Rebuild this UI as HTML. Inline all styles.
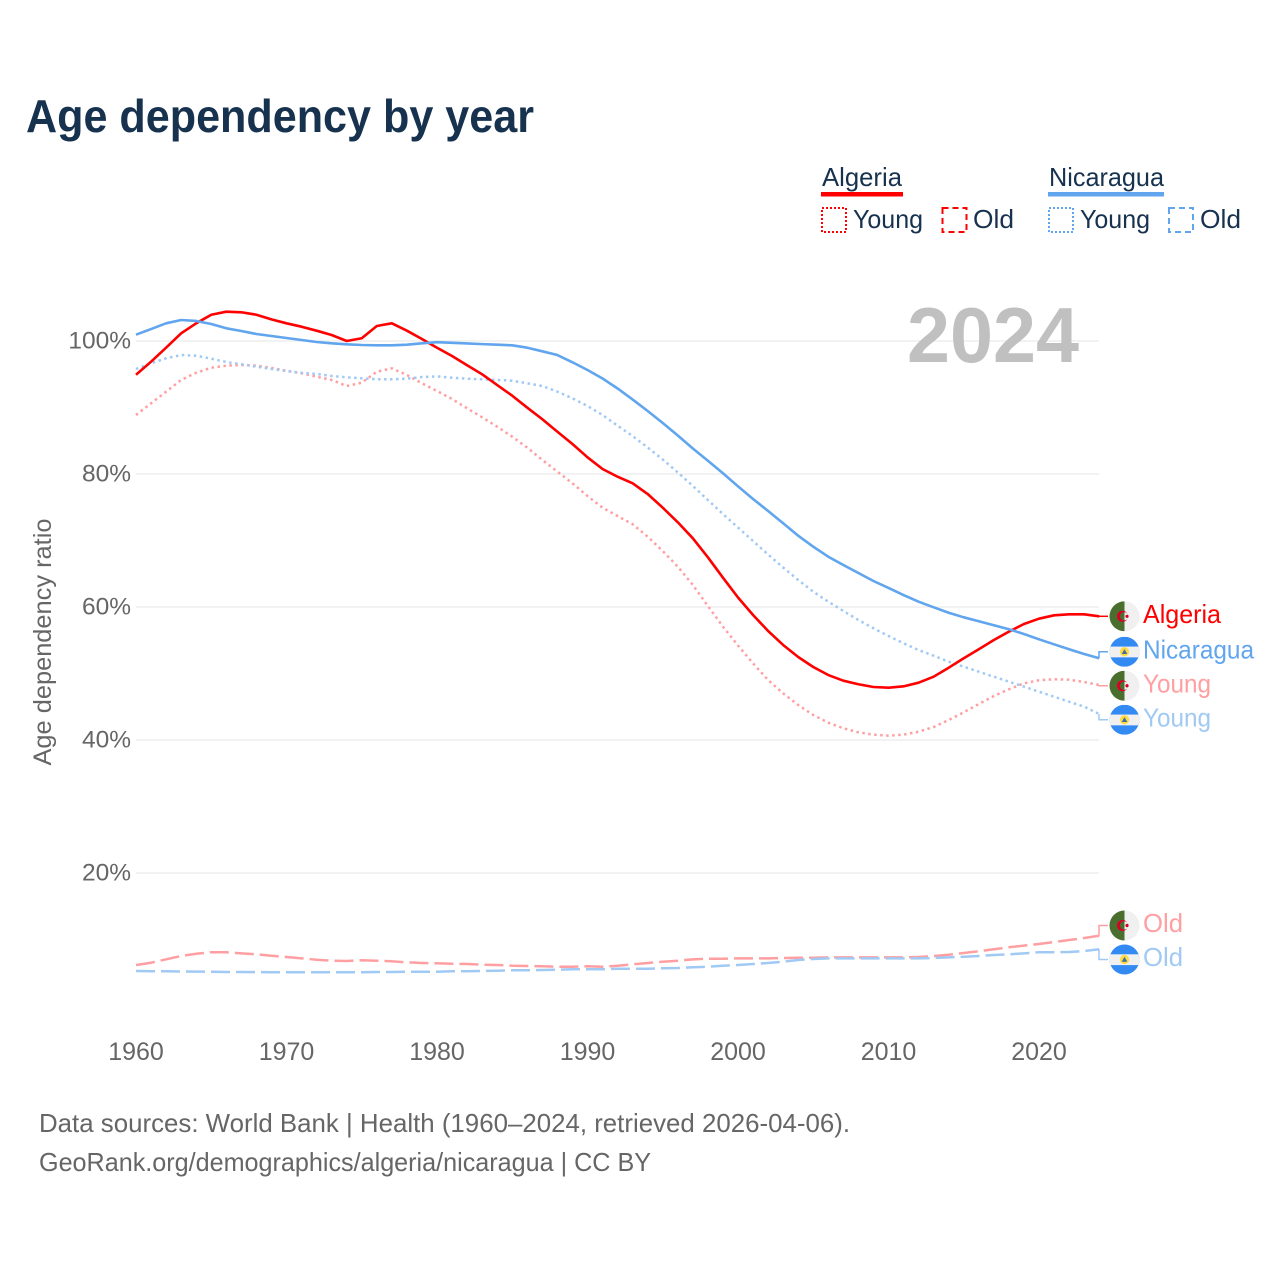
<!DOCTYPE html>
<html lang="en">
<head>
<meta charset="utf-8">
<title>Age dependency by year</title>
<style>
html,body{margin:0;padding:0;background:#fff;}
svg{display:block;font-family:"Liberation Sans",sans-serif;}
</style>
</head>
<body>
<svg id="chart" xmlns="http://www.w3.org/2000/svg" width="1280" height="1280" viewBox="0 0 1280 1280">
  <defs>
    <clipPath id="flag-clip"><circle cx="0" cy="0" r="15"/></clipPath>
    <g id="flag-algeria" clip-path="url(#flag-clip)">
      <rect x="-15" y="-15" width="30" height="30" fill="#f0f0f0"/>
      <rect x="-15" y="-15" width="15" height="30" fill="#496e2d"/>
      <path fill-rule="evenodd" d="M-7.5 0 A5.5 5.5 0 1 0 3.5 0 A5.5 5.5 0 1 0 -7.5 0 Z M-4.6 0 A4.2 4.2 0 1 0 3.8 0 A4.2 4.2 0 1 0 -4.6 0 Z" fill="#d80027"/>
      <circle cx="2.5" cy="0" r="1.6" fill="#d80027"/>
    </g>
    <g id="flag-nicaragua" clip-path="url(#flag-clip)">
      <rect x="-15" y="-15" width="30" height="30" fill="#338af3"/>
      <rect x="-15" y="-5.2" width="30" height="10.8" fill="#f0f0f0"/>
      <circle cx="0" cy="0" r="4.6" fill="#ffda44"/>
      <path d="M0 -2.6 L2.8 2.2 L-2.8 2.2 Z" fill="#3f6f9f"/>
    </g>
  </defs>

  <text x="26" y="132" font-size="46" font-weight="700" fill="#17324f" textLength="508" lengthAdjust="spacingAndGlyphs">Age dependency by year</text>

  <g font-size="26" fill="#17324f">
    <g>
      <text x="822" y="186" textLength="80" lengthAdjust="spacingAndGlyphs">Algeria</text>
      <rect x="821" y="192" width="82" height="4.5" fill="#ff0000"/>
      <rect x="822" y="208" width="24" height="24" fill="none" stroke="#ff0000" stroke-width="2" stroke-dasharray="2 2"/>
      <text x="853" y="228" textLength="70" lengthAdjust="spacingAndGlyphs">Young</text>
      <rect x="942.5" y="208" width="24" height="24" fill="none" stroke="#ff0000" stroke-width="2" stroke-dasharray="6 4"/>
      <text x="973" y="228" textLength="41" lengthAdjust="spacingAndGlyphs">Old</text>
    </g>
    <g>
      <text x="1049" y="186" textLength="115" lengthAdjust="spacingAndGlyphs">Nicaragua</text>
      <rect x="1048" y="192" width="116" height="4.5" fill="#60a5ee"/>
      <rect x="1049" y="208" width="24" height="24" fill="none" stroke="#60a5ee" stroke-width="2" stroke-dasharray="2 2"/>
      <text x="1080" y="228" textLength="70" lengthAdjust="spacingAndGlyphs">Young</text>
      <rect x="1169" y="208" width="24" height="24" fill="none" stroke="#60a5ee" stroke-width="2" stroke-dasharray="6 4"/>
      <text x="1200" y="228" textLength="41" lengthAdjust="spacingAndGlyphs">Old</text>
    </g>
  </g>

  <g id="grid"></g>
  <text x="907" y="362" font-size="78" font-weight="700" fill="#c0c0c0" textLength="172" lengthAdjust="spacingAndGlyphs">2024</text>
  <g id="y-axis"></g>
  <g id="x-axis"></g>
  <text transform="translate(51 642) rotate(-90)" text-anchor="middle" font-size="25" fill="#666666" textLength="247" lengthAdjust="spacingAndGlyphs">Age dependency ratio</text>
  <g id="series"></g>
  <g id="end-labels"></g>

  <g font-size="26" fill="#666666">
    <text x="39" y="1132" textLength="811" lengthAdjust="spacingAndGlyphs">Data sources: World Bank | Health (1960–2024, retrieved 2026-04-06).</text>
    <text x="39" y="1171" textLength="612" lengthAdjust="spacingAndGlyphs">GeoRank.org/demographics/algeria/nicaragua | CC BY</text>
  </g>
</svg>
<script>
const years = [1960,1961,1962,1963,1964,1965,1966,1967,1968,1969,1970,1971,1972,1973,1974,1975,1976,1977,1978,1979,1980,1981,1982,1983,1984,1985,1986,1987,1988,1989,1990,1991,1992,1993,1994,1995,1996,1997,1998,1999,2000,2001,2002,2003,2004,2005,2006,2007,2008,2009,2010,2011,2012,2013,2014,2015,2016,2017,2018,2019,2020,2021,2022,2023,2024];
const xTicks = [1960,1970,1980,1990,2000,2010,2020];
const yTicks = [20,40,60,80,100];

const algeriaTotal = [94.93,96.89,98.99,101.16,102.66,103.95,104.41,104.32,103.95,103.26,102.66,102.15,101.55,100.90,100,100.41,102.26,102.66,101.55,100.30,98.98,97.74,96.35,94.99,93.38,91.77,89.97,88.23,86.36,84.51,82.51,80.75,79.59,78.60,76.99,74.93,72.74,70.33,67.47,64.41,61.43,58.80,56.39,54.29,52.48,50.98,49.77,48.92,48.38,47.97,47.86,48.07,48.62,49.52,50.87,52.29,53.64,55.04,56.29,57.44,58.24,58.75,58.90,58.90,58.60];
const nicaraguaTotal = [100.95,101.80,102.66,103.16,103.01,102.56,101.91,101.50,101.05,100.75,100.45,100.15,99.85,99.65,99.50,99.40,99.35,99.35,99.44,99.65,99.82,99.73,99.64,99.53,99.44,99.35,98.99,98.45,97.89,96.80,95.64,94.36,92.86,91.20,89.47,87.67,85.79,83.83,82.00,80.11,78.15,76.24,74.44,72.59,70.72,69.07,67.56,66.32,65.11,63.91,62.86,61.80,60.80,59.95,59.14,58.45,57.85,57.25,56.65,55.94,55.14,54.39,53.64,52.93,52.29];
const algeriaYoung = [88.87,90.63,92.38,94.14,95.23,95.98,96.29,96.39,96.29,95.94,95.53,95.14,94.63,94.14,93.23,93.73,95.38,95.89,94.89,93.64,92.48,91.28,89.88,88.53,87.11,85.61,83.95,82.11,80.35,78.60,76.69,74.93,73.68,72.44,70.57,68.42,66.06,63.31,60.15,57.04,54.21,51.53,49.02,47.02,45.26,43.76,42.60,41.76,41.16,40.80,40.65,40.80,41.25,41.95,43.01,44.17,45.41,46.62,47.62,48.53,48.98,49.13,49.07,48.72,48.27];
const nicaraguaYoung = [95.79,96.65,97.40,97.89,97.79,97.34,96.84,96.50,96.14,95.79,95.49,95.23,95.04,94.74,94.54,94.39,94.24,94.24,94.33,94.59,94.68,94.48,94.33,94.24,94.14,94.03,93.64,93.23,92.38,91.38,90.23,88.87,87.26,85.71,83.98,82.18,80.23,78.20,76.09,73.98,71.95,69.92,67.89,65.94,64.06,62.30,60.80,59.40,58.05,56.80,55.64,54.54,53.53,52.68,51.77,51.02,50.27,49.52,48.77,48.02,47.26,46.51,45.76,45.01,43.91];
const algeriaOld = [6.17,6.51,7.02,7.52,7.86,8.08,8.08,7.92,7.77,7.56,7.37,7.17,6.96,6.81,6.77,6.87,6.81,6.72,6.57,6.47,6.42,6.36,6.32,6.21,6.17,6.06,6.02,5.97,5.91,5.91,5.97,5.91,6.06,6.27,6.47,6.66,6.81,7.02,7.11,7.11,7.17,7.17,7.17,7.22,7.26,7.26,7.32,7.32,7.32,7.32,7.32,7.32,7.37,7.52,7.71,7.97,8.23,8.53,8.83,9.07,9.32,9.62,9.92,10.23,10.57];
const nicaraguaOld = [5.26,5.22,5.22,5.19,5.17,5.16,5.11,5.11,5.10,5.08,5.07,5.07,5.07,5.07,5.07,5.07,5.11,5.11,5.16,5.16,5.16,5.22,5.22,5.26,5.31,5.37,5.37,5.41,5.46,5.52,5.52,5.52,5.61,5.61,5.61,5.67,5.71,5.82,5.91,6.06,6.17,6.32,6.47,6.66,6.92,7.07,7.17,7.17,7.17,7.17,7.17,7.17,7.17,7.22,7.32,7.41,7.52,7.67,7.77,7.92,8.08,8.08,8.12,8.27,8.53];

const SVGNS = 'http://www.w3.org/2000/svg';
const xScale = function (year) { return 136 + (year - 1960) * 15.05; };
const yScale = function (pct) { return 1006 - pct * 6.65; };
function svgEl(tag, parent) {
  const el = document.createElementNS(SVGNS, tag);
  parent.appendChild(el);
  return el;
}

const gridGroup = document.getElementById('grid');
const yAxisGroup = document.getElementById('y-axis');
yTicks.forEach(function (t) {
  const line = svgEl('line', gridGroup);
  
  
  line.setAttribute('x1', 136);
  line.setAttribute('x2', 1099);
  line.setAttribute('y1', yScale(t));
  line.setAttribute('y2', yScale(t));
  line.setAttribute('stroke', '#eeeeee');
  line.setAttribute('stroke-width', 1.5);
  const label = svgEl('text', yAxisGroup);
  
  
  label.setAttribute('x', 131);
  label.setAttribute('y', yScale(t) + 7.5);
  label.setAttribute('text-anchor', 'end');
  label.setAttribute('font-size', 24.5);
  label.setAttribute('fill', '#666666');
  label.textContent = t + '%';
});

const xAxisGroup = document.getElementById('x-axis');
xTicks.forEach(function (t) {
  const label = svgEl('text', xAxisGroup);
  
  
  label.setAttribute('x', xScale(t));
  label.setAttribute('y', 1060);
  label.setAttribute('text-anchor', 'middle');
  label.setAttribute('font-size', 25);
  label.setAttribute('fill', '#666666');
  label.textContent = t;
});

const seriesDefs = [
  {key:'algeria-old', values:algeriaOld, color:'#ff9fa2', dash:'19 6', label:'Old', flag:'flag-algeria', textWidth:40},
  {key:'nicaragua-old', values:nicaraguaOld, color:'#a0c9f4', dash:'19 6', label:'Old', flag:'flag-nicaragua', textWidth:40},
  {key:'algeria-young', values:algeriaYoung, color:'#ff9fa2', dash:'2.5 3.5', label:'Young', flag:'flag-algeria', textWidth:68},
  {key:'nicaragua-young', values:nicaraguaYoung, color:'#a0c9f4', dash:'2.5 3.5', label:'Young', flag:'flag-nicaragua', textWidth:68},
  {key:'algeria-total', values:algeriaTotal, color:'#ff0000', dash:'', label:'Algeria', flag:'flag-algeria', textWidth:78},
  {key:'nicaragua-total', values:nicaraguaTotal, color:'#60a5ee', dash:'', label:'Nicaragua', flag:'flag-nicaragua', textWidth:111}
];

const seriesGroup = document.getElementById('series');
seriesDefs.forEach(function (s) {
  const points = s.values.map(function (v, i) { return xScale(years[i]).toFixed(2) + ',' + yScale(v).toFixed(2); }).join(' ');
  const line = svgEl('polyline', seriesGroup);
  
  
  line.setAttribute('points', points);
  line.setAttribute('fill', 'none');
  line.setAttribute('stroke', s.color);
  line.setAttribute('stroke-width', s.dash === '' ? 2.6 : 2.5);
  line.setAttribute('stroke-linejoin', 'round');
  if (s.dash) { line.setAttribute('stroke-dasharray', s.dash); }
});

/* End labels: start at each series' last value, then spread overlapping ones apart. */
const labelGap = 34;
let clusters = seriesDefs.map(function (s) {
  return {items:[s], center:yScale(s.values[s.values.length - 1])};
}).sort(function (a, b) { return a.center - b.center; });
let merged = true;
while (merged) {
  merged = false;
  for (let i = 0; i < clusters.length - 1; i++) {
    const a = clusters[i];
    const b = clusters[i + 1];
    if (a.center + (a.items.length - 1) * labelGap / 2 + labelGap > b.center - (b.items.length - 1) * labelGap / 2) {
      const all = a.items.concat(b.items);
      const sum = all.reduce(function (acc, s) { return acc + yScale(s.values[s.values.length - 1]); }, 0);
      clusters.splice(i, 2, {items:all, center:sum / all.length});
      merged = true;
      break;
    }
  }
}

const labelsGroup = document.getElementById('end-labels');
clusters.forEach(function (c) {
  c.items.sort(function (a, b) { return a.values[a.values.length - 1] < b.values[b.values.length - 1] ? 1 : -1; });
  c.items.forEach(function (s, idx) {
    const ly = c.center + (idx - (c.items.length - 1) / 2) * labelGap;
    const endY = yScale(s.values[s.values.length - 1]);
    const leader = svgEl('polyline', labelsGroup);
    
    
    leader.setAttribute('points', '1099,' + endY.toFixed(2) + ' 1099,' + ly.toFixed(2) + ' 1108,' + ly.toFixed(2));
    leader.setAttribute('fill', 'none');
    leader.setAttribute('stroke', s.color);
    leader.setAttribute('stroke-width', 1.5);
    const flag = svgEl('use', labelsGroup);
    
    
    flag.setAttribute('href', '#' + s.flag);
    flag.setAttribute('transform', 'translate(1124.5 ' + ly.toFixed(2) + ')');
    const text = svgEl('text', labelsGroup);
    
    
    text.setAttribute('x', 1143);
    text.setAttribute('y', ly + 6.5);
    text.setAttribute('font-size', 26);
    text.setAttribute('fill', s.color);
    text.setAttribute('textLength', s.textWidth);
    text.setAttribute('lengthAdjust', 'spacingAndGlyphs');
    text.textContent = s.label;
  });
});
</script>
</body>
</html>
